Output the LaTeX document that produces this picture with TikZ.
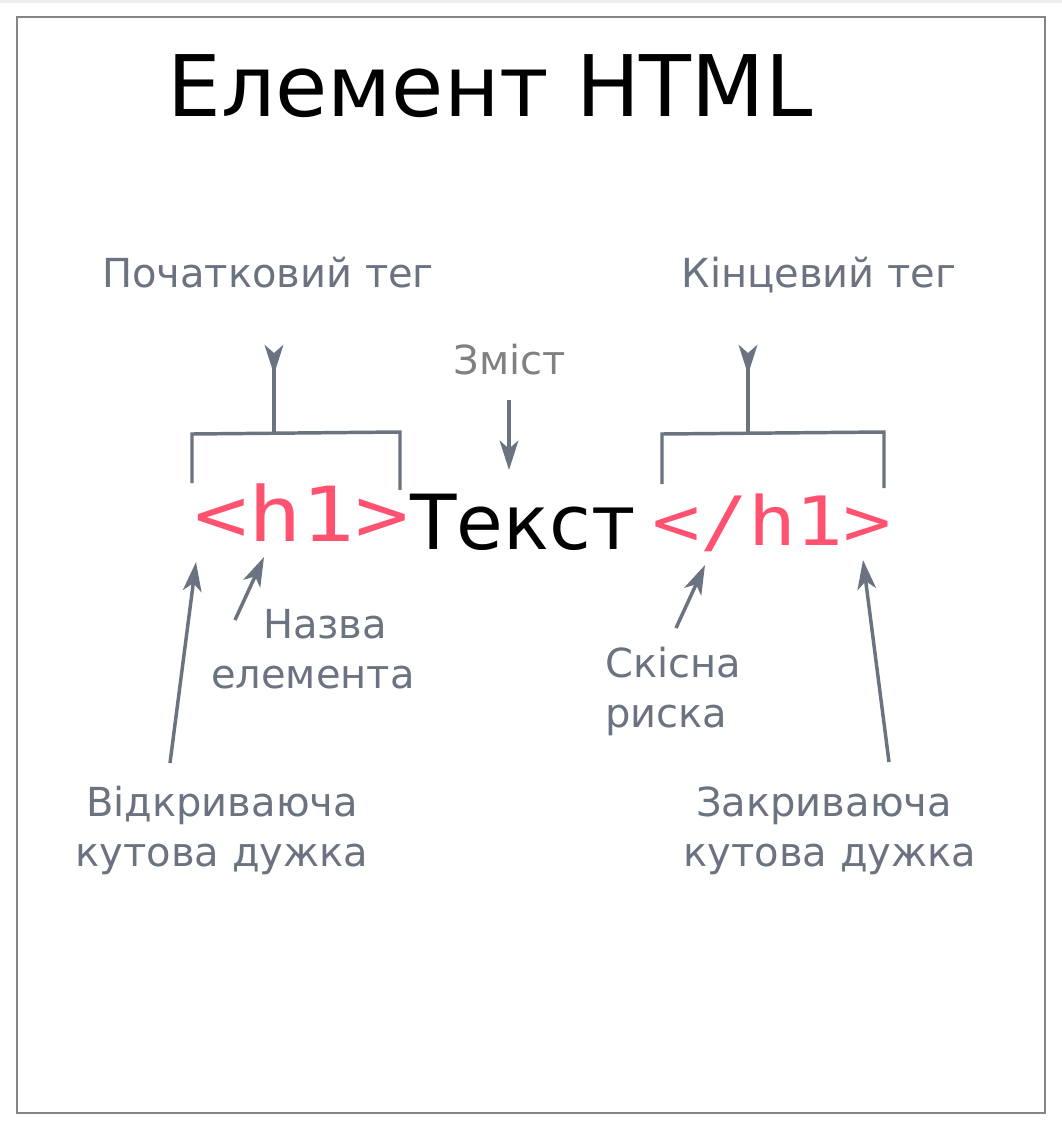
\documentclass[tikz,border=0pt]{standalone}
\usepackage{fontspec}
\setmainfont{DejaVu Sans}
\newfontfamily\monof{DejaVu Sans Mono}
\usetikzlibrary{arrows.meta}
\definecolor{lblgray}{HTML}{6B7280}
\definecolor{midgray}{HTML}{808080}
\definecolor{tagred}{HTML}{FF5270}
\definecolor{framegray}{HTML}{858585}
\definecolor{stripgray}{HTML}{EEEEEC}
\tikzset{
  lbl/.style={text=lblgray, font=\fontsize{30pt}{37.5pt}\selectfont, inner sep=0pt, anchor=base},
  conn/.style={draw=lblgray, line width=2.6pt, -{Stealth[length=22pt,width=14pt,inset=6pt]}},
  brk/.style={draw=lblgray, line width=2.6pt},
  stemarrow/.style={draw=lblgray, line width=2.6pt, -{Stealth[length=22pt,width=14pt,inset=6pt,reversed]}},
  tag/.style={text=tagred, inner sep=0pt, anchor=base},
}
\begin{document}
\begin{tikzpicture}[x=0.75pt,y=-0.75pt]
\useasboundingbox (0,0) rectangle (1062,1131);
\fill[white] (0,0) rectangle (1062,1131);
\fill[stripgray] (0,0) rectangle (1062,3);
\draw[framegray, line width=1.5pt] (17,17) rectangle (1045,1113);
% title
\node[inner sep=0pt, anchor=base, font=\fontsize{63.7pt}{70pt}\selectfont] (title) at (490,117) {Елемент HTML};
% top labels
\node[lbl] (starttag) at (268,287) {Початковий тег};
\node[lbl] (endtag) at (819,287) {Кінцевий тег};
\node[lbl, text=midgray] (content) at (510,374) {Зміст};
% main line
\node[tag, font=\monof\fontsize{57pt}{60pt}\selectfont] (open) at (302,541) {\scalebox{1.17}[1]{<h1>}};
\node[inner sep=0pt, anchor=base, font=\fontsize{57pt}{60pt}\selectfont] (text) at (523,549) {Текст};
\node[tag, font=\monof\fontsize{51pt}{55pt}\selectfont] (close) at (772,545) {\scalebox{1.17}[1]{</h1>}};
% brackets
\coordinate (lb1) at (192,483);
\coordinate (lb2) at (192,434);
\coordinate (lb3) at (400,432);
\coordinate (lb4) at (400,490);
\coordinate (lst) at (274,433);
\coordinate (lstop) at (274,345);
\draw[brk] (lb1) -- (lb2) -- (lb3) -- (lb4);
\draw[stemarrow] (lst) -- (lstop);
\coordinate (rb1) at (662,484);
\coordinate (rb2) at (662,434);
\coordinate (rb3) at (884,432);
\coordinate (rb4) at (884,488);
\coordinate (rst) at (748,433);
\coordinate (rstop) at (748,345);
\draw[brk] (rb1) -- (rb2) -- (rb3) -- (rb4);
\draw[stemarrow] (rst) -- (rstop);
% content arrow
\coordinate (cs) at (509,400);
\coordinate (ce) at (509,470);
\draw[conn] (cs) -- (ce);
% bottom labels
\node[lbl, align=center] (name) at (313,688) {\hspace*{0.6em}Назва\\елемента};
\node[lbl, align=left, anchor=base west] (slash) at (605,727) {Скісна\\риска};
\node[lbl, align=center] (openbr) at (222,866) {Відкриваюча\\кутова дужка};
\node[lbl, align=center] (closebr) at (830,866) {Закриваюча\hspace*{9pt}\\кутова дужка};
% arrows
\coordinate (a1s) at (170,763); \coordinate (a1e) at (196,562);
\coordinate (a2s) at (235,620); \coordinate (a2e) at (264,557);
\coordinate (a3s) at (676,628); \coordinate (a3e) at (705,565);
\coordinate (a4s) at (889,762); \coordinate (a4e) at (863,560);
\draw[conn] (a1s) -- (a1e);
\draw[conn] (a2s) -- (a2e);
\draw[conn] (a3s) -- (a3e);
\draw[conn] (a4s) -- (a4e);
\end{tikzpicture}
\end{document}
